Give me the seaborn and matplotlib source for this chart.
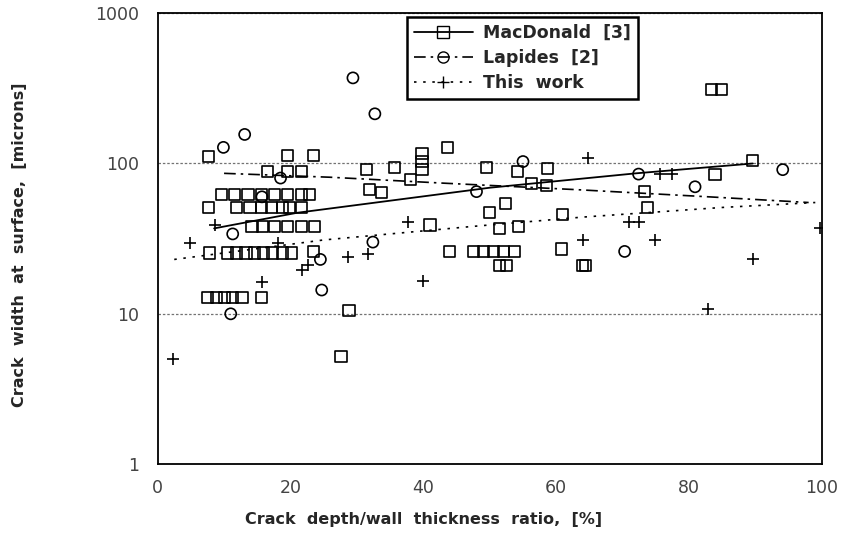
import matplotlib as mpl
import matplotlib.pyplot as plt
from matplotlib.lines import Line2D
import seaborn as sns

# Set matplotlib backend so figures don't pop up
mpl.use('agg')

'''Crack width at surface vs crack depth ratio (log scale)'''

# MacDonald [3] - open squares
mac_x = [83.4, 84.9, 7.7, 19.6, 23.5, 43.7, 39.8, 39.8, 39.8, 35.7, 31.5, 49.5,
         89.6, 83.9, 54.2, 58.7, 58.6, 56.3, 16.6, 19.6, 21.7, 38.0, 31.9, 33.7,
         50.0, 52.3, 73.3, 73.8, 61.0, 41.0, 44.0, 47.5, 49.0, 50.5, 52.0, 53.7,
         51.5, 54.3, 51.5, 52.5, 60.8, 64.0, 64.4, 28.8, 27.6, 23.5,
         9.6, 11.6, 13.6, 15.7, 17.6, 19.6, 21.7, 22.9,
         7.7, 11.9, 13.9, 15.7, 17.2, 18.8, 19.9, 21.7,
         14.2, 15.8, 17.6, 19.6, 21.7, 23.6,
         7.8, 10.5, 11.9, 13.3, 14.6, 16.0, 17.3, 18.8, 20.2,
         7.5, 8.9, 10.1, 11.3, 12.7, 15.7]
mac_y = [310, 310, 111, 113, 113, 128, 117, 103, 91, 94, 91, 94,
         105, 85, 88, 93, 71, 74, 88, 88, 88, 78, 67, 64,
         47, 54, 65, 51, 46, 39, 26, 26, 26, 26, 26, 26,
         37, 38, 21, 21, 27, 21, 21, 10.5, 5.2, 26,
         62, 62, 62, 62, 62, 62, 62, 62,
         51, 51, 51, 51, 51, 51, 51, 51,
         38, 38, 38, 38, 38, 38,
         25.4, 25.4, 25.4, 25.4, 25.4, 25.4, 25.4, 25.4, 25.4,
         12.8, 12.8, 12.8, 12.8, 12.8, 12.8]

# Lapides [2] - open circles
lap_x = [29.4, 32.7, 13.1, 9.9, 18.5, 55.0, 48.0, 72.4, 80.9, 94.1, 70.3,
         24.7, 11.0, 11.3, 32.4, 24.5, 15.7]
lap_y = [371, 214, 156, 128, 80, 103, 65, 85, 70, 91, 26,
         14.4, 10, 34, 30, 23, 60]

# This work - plus signs
this_x = [2.3, 4.8, 8.6, 15.7, 18.1, 21.7, 22.6, 28.6, 31.6, 37.7, 39.9,
          64.8, 75.6, 77.4, 71.0, 72.5, 64.0, 74.8, 89.6, 82.8, 99.7]
this_y = [5.0, 29.5, 39, 16.2, 29.5, 19.5, 21, 24, 25, 41, 16.6,
          108, 85, 85, 41, 41, 31, 31, 23, 10.7, 37]

# Fitted trend lines
mac_fit_x = [8.5, 21, 50, 72, 89.6]
mac_fit_y = [37, 47, 69, 86, 100]
lap_fit_x = [10, 26, 43, 63, 83, 98]
lap_fit_y = [86, 81, 74, 67, 60, 55]
this_fit_x = [2.5, 25, 47, 64, 85, 99]
this_fit_y = [23, 31, 38, 44, 51, 55]

sns.set_style('ticks')
plt.rcParams['font.family'] = ['DejaVu Sans']

fig = plt.figure(figsize=(8.43, 5.48), dpi=100)
ax = fig.add_axes([0.187, 0.153, 0.788, 0.823])

lap_ls = (0, (7, 3, 1.5, 3))
this_ls = (0, (1.5, 4))

# Trend lines
sns.lineplot(x=mac_fit_x, y=mac_fit_y, color='k', lw=1.3, ax=ax,
             estimator=None, sort=False)
sns.lineplot(x=lap_fit_x, y=lap_fit_y, color='k', lw=1.2, linestyle=lap_ls,
             ax=ax, estimator=None, sort=False)
sns.lineplot(x=this_fit_x, y=this_fit_y, color='k', lw=1.2, linestyle=this_ls,
             ax=ax, estimator=None, sort=False)

# Data points
sns.scatterplot(x=mac_x, y=mac_y, marker='s', s=64, facecolor='none',
                edgecolor='k', linewidth=1.2, ax=ax, zorder=3)
sns.scatterplot(x=lap_x, y=lap_y, marker='o', s=64, facecolor='none',
                edgecolor='k', linewidth=1.2, ax=ax, zorder=3)
sns.scatterplot(x=this_x, y=this_y, marker='+', s=70, color='k',
                linewidth=1.2, ax=ax, zorder=3)

ax.set_yscale('log')
ax.set_ylim(1, 1000)
ax.set_xlim(0, 100)
ax.set_yticks([1, 10, 100, 1000])
ax.set_yticklabels(['1', '10', '100', '1000'])
ax.set_xticks([0, 20, 40, 60, 80, 100])
ax.minorticks_off()
ax.tick_params(axis='y', length=0, pad=13, labelsize=12.5, colors='#444444')
ax.tick_params(axis='x', length=0, pad=11, labelsize=12.5, colors='#444444')
ax.grid(True, axis='y', which='major', color='0.45', linestyle=(0, (2, 1.5)), lw=0.9)

for side in ['top', 'right', 'bottom', 'left']:
    ax.spines[side].set_visible(True)
    ax.spines[side].set_color('k')
    ax.spines[side].set_linewidth(1.3)

ax.set_xlabel('Crack  depth/wall  thickness  ratio,  [%]', fontsize=11.5,
              fontweight='bold')
ax.xaxis.set_label_coords(0.40, -0.105)
ax.set_ylabel('Crack  width  at  surface,  [microns]', fontsize=11.5,
              fontweight='bold')
ax.yaxis.set_label_coords(-0.197, 0.486)

handles = [
    Line2D([], [], color='k', lw=1.3, marker='s', mfc='none', ms=8, label='MacDonald  [3]'),
    Line2D([], [], color='k', lw=1.2, ls=lap_ls, marker='o', mfc='none', ms=8, label='Lapides  [2]'),
    Line2D([], [], color='k', lw=1.2, ls=this_ls, marker='+', ms=9, label='This  work'),
]
leg = ax.legend(handles=handles, loc='upper left', bbox_to_anchor=(0.375, 0.992),
                borderaxespad=0, frameon=True, fancybox=False, framealpha=1,
                edgecolor='k', prop={'weight': 'bold', 'size': 12.5},
                handlelength=3.4, borderpad=0.4, labelspacing=0.42,
                handletextpad=0.6)
leg.get_frame().set_linewidth(1.8)

fig.savefig('out.png', dpi=100)
